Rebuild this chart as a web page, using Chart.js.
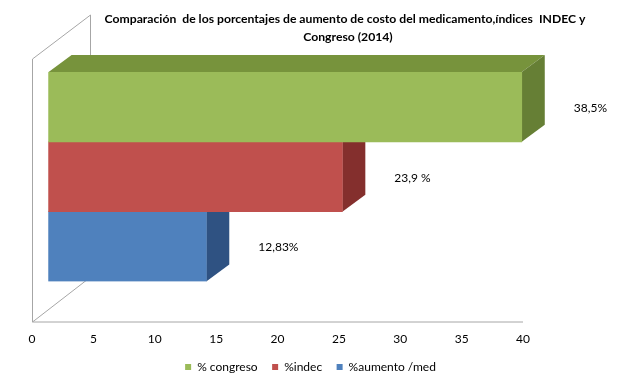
<!DOCTYPE html>
<html>
<head>
<meta charset="utf-8">
<script src="https://cdn.jsdelivr.net/npm/chart.js@4.4.1/dist/chart.umd.min.js"></script>
<style>
  html, body { margin: 0; padding: 0; background: #fff; }
  #wrap { width: 619px; height: 383px; position: relative; }
</style>
</head>
<body>
<div id="wrap"><canvas id="chart"></canvas></div>
<script>
// data
const seriesNames = ['% congreso', '%indec', '%aumento /med'];
const seriesValues = [38.5, 23.9, 12.83];
const valueLabels = ['38,5%', '23,9 %', '12,83%'];
const titleLines = ['Comparación  de los porcentajes de aumento de costo del medicamento,índices  INDEC y', 'Congreso (2014)'];

const frontColors = ['#9BBB59', '#C0504D', '#4F81BD'];
const topColors = ['#77933C', '#943A38', '#3A6290'];
const sideColors = ['#667F35', '#842F2D', '#2F5282'];

const FONT = "Lato, 'Open Sans', sans-serif";
Chart.defaults.font.family = FONT;
Chart.defaults.color = '#000';

// depth of bars and of the wall (3D look)
const BAR_D = { x: 23, y: -17 };
const WALL_D = { x: 58, y: -44 };

const frame3d = {
    id: 'frame3d',
    afterLayout(chart) {
        // legend sits centred on the whole canvas, not the plot
        chart.legend.left += 33;
        chart.legend.right += 33;
    },
    beforeDatasetsDraw(chart) {
        const ctx = chart.ctx;
        const area = chart.chartArea;
        const xs = chart.scales.x;
        const x0 = xs.getPixelForValue(0);
        const x1 = xs.getPixelForValue(40);
        const floorY = area.bottom + 40;
        const topY = area.top - 13;
        ctx.save();
        ctx.strokeStyle = '#A6A6A6';
        ctx.lineWidth = 1;
        ctx.beginPath();
        ctx.moveTo(x0 + 0.5, topY);
        ctx.lineTo(x0 + 0.5, floorY + 0.5);
        ctx.lineTo(x1, floorY + 0.5);
        ctx.moveTo(x0 + 0.5, floorY + 0.5);
        ctx.lineTo(x0 + WALL_D.x, floorY + WALL_D.y);
        ctx.moveTo(x0 + 0.5, topY);
        ctx.lineTo(x0 + WALL_D.x + 0.5, topY + WALL_D.y);
        ctx.lineTo(x0 + WALL_D.x + 0.5, floorY + WALL_D.y);
        ctx.stroke();

        // top and side faces, bottom bar first
        for (let i = chart.data.datasets.length - 1; i >= 0; i--) {
            const bar = chart.getDatasetMeta(i).data[0];
            const t = bar.y - bar.height / 2;
            const b = bar.y + bar.height / 2;
            ctx.fillStyle = topColors[i];
            ctx.beginPath();
            ctx.moveTo(bar.base, t);
            ctx.lineTo(bar.base + BAR_D.x, t + BAR_D.y);
            ctx.lineTo(bar.x + BAR_D.x, t + BAR_D.y);
            ctx.lineTo(bar.x, t);
            ctx.closePath();
            ctx.fill();
            ctx.fillStyle = sideColors[i];
            ctx.beginPath();
            ctx.moveTo(bar.x, t);
            ctx.lineTo(bar.x + BAR_D.x, t + BAR_D.y);
            ctx.lineTo(bar.x + BAR_D.x, b + BAR_D.y);
            ctx.lineTo(bar.x, b);
            ctx.closePath();
            ctx.fill();
        }
        ctx.restore();
    },
    afterDatasetsDraw(chart) {
        const ctx = chart.ctx;
        ctx.save();
        ctx.font = '12px ' + FONT;
        ctx.fillStyle = '#000';
        ctx.textAlign = 'left';
        ctx.textBaseline = 'middle';
        chart.data.datasets.forEach((ds, i) => {
            const bar = chart.getDatasetMeta(i).data[0];
            ctx.fillText(valueLabels[i], bar.x + 52, bar.y + 1);
        });
        // title
        ctx.font = 'bold 12.2px ' + FONT;
        ctx.textAlign = 'center';
        ctx.fillText(titleLines[0], 345, 19);
        ctx.fillText(titleLines[1], 348, 37);
        ctx.restore();
    }
};

new Chart(document.getElementById('chart').getContext('2d'), {
    type: 'bar',
    data: {
        labels: [''],
        datasets: seriesNames.map((name, i) => ({
            label: name,
            data: [seriesValues[i]],
            backgroundColor: frontColors[i],
            xAxisID: 'xb',
            categoryPercentage: 1,
            barPercentage: 1
        }))
    },
    options: {
        indexAxis: 'y',
        responsive: true,
        maintainAspectRatio: false,
        animation: false,
        layout: { padding: { left: 32, right: 96, top: 72, bottom: 0 } },
        scales: {
            x: {
                type: 'linear', min: 0, max: 40,
                ticks: { stepSize: 5, padding: 50, font: { size: 12 }, color: '#000' },
                grid: { display: false, drawTicks: false },
                border: { display: false },
                afterFit(s) { s.paddingLeft = 0; s.paddingRight = 0; s.height = 65; }
            },
            xb: { type: 'linear', min: -1.35, max: 38.6, display: false },
            y: { display: false }
        },
        plugins: {
            legend: {
                position: 'bottom',
                labels: { boxWidth: 6, boxHeight: 6, padding: 14.5, font: { size: 12 }, color: '#000' }
            },
            tooltip: { enabled: false }
        }
    },
    plugins: [frame3d]
});
</script>
</body>
</html>
